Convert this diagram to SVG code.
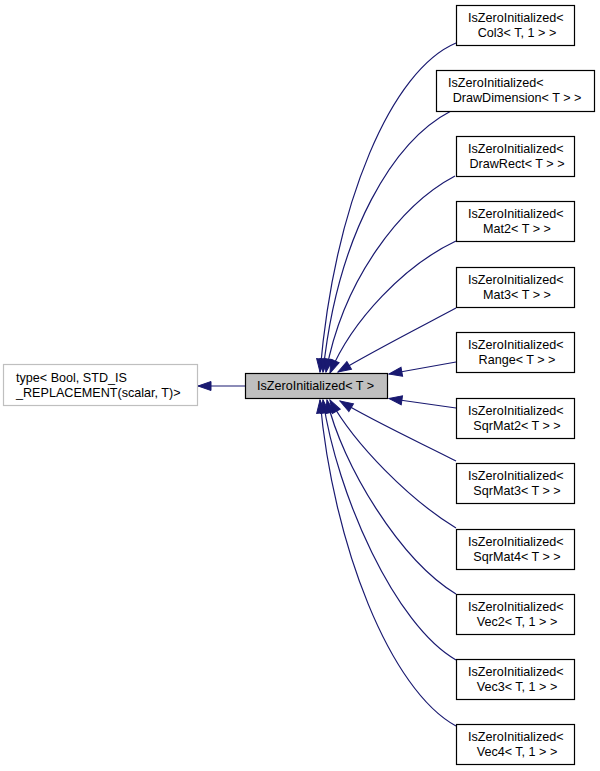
<svg xmlns="http://www.w3.org/2000/svg" width="600" height="771" viewBox="0 0 600 771">
<style>
.bg{fill:#ffffff}
.node rect{fill:#ffffff;stroke:#000000;stroke-width:1.2}
.node text{font-family:"Liberation Sans",Arial,sans-serif;font-size:12.6px;fill:#000000}
.l2{text-anchor:middle}
#n0 rect{fill:#bfbfbf}
#nbase rect{stroke:#bfbfbf}
.edges path{fill:none;stroke:#191970;stroke-width:1.2}
</style>
<defs>
<marker id="ah" markerUnits="userSpaceOnUse" markerWidth="14" markerHeight="10" refX="13" refY="4.5" orient="auto" overflow="visible">
<path d="M0,0 L13,4.5 L0,9 z" fill="#191970" stroke="#191970" stroke-width="1"/>
</marker>
</defs>
<rect class="bg" x="0" y="0" width="600" height="771"/>
<g class="edges">
<path marker-end="url(#ah)" d="M245,386 L198,386"/>
<path marker-end="url(#ah)" d="M456,43 C392,70 335,200 320,372"/>
<path marker-end="url(#ah)" d="M451,111 C395,140 338,230 323,372"/>
<path marker-end="url(#ah)" d="M455,176 C400,205 343,280 326,372"/>
<path marker-end="url(#ah)" d="M456,241 C405,265 352,320 330,373"/>
<path marker-end="url(#ah)" d="M456,308 C430,322 375,350 338,372"/>
<path marker-end="url(#ah)" d="M456,362 L389,374"/>
<path marker-end="url(#ah)" d="M456,408 L389,398.5"/>
<path marker-end="url(#ah)" d="M456,461 C425,445 375,422 340,401"/>
<path marker-end="url(#ah)" d="M456,528 C410,500 355,445 330,400"/>
<path marker-end="url(#ah)" d="M456,594 C400,560 342,465 327,400"/>
<path marker-end="url(#ah)" d="M456,660 C395,625 337,495 323,400"/>
<path marker-end="url(#ah)" d="M456,726 C390,690 333,545 320,400"/>
</g>
<g id="nbase" class="node"><rect x="3.5" y="364.5" width="194" height="41"/><text x="16" y="382">type&lt; Bool, STD_IS</text><text x="16" y="397">_REPLACEMENT(scalar, T)&gt;</text></g>
<g id="n0" class="node"><rect x="245.5" y="373.5" width="142" height="25"/><text x="257" y="389.5">IsZeroInitialized&lt; T &gt;</text></g>
<g id="n1" class="node"><rect x="456.5" y="5.5" width="118" height="40"/><text x="468" y="22">IsZeroInitialized&lt;</text><text class="l2" x="517" y="37">Col3&lt; T, 1 &gt; &gt;</text></g>
<g id="n2" class="node"><rect x="436.5" y="70.5" width="158" height="41"/><text x="448" y="87">IsZeroInitialized&lt;</text><text class="l2" x="517" y="102">DrawDimension&lt; T &gt; &gt;</text></g>
<g id="n3" class="node"><rect x="456.5" y="136.5" width="118" height="40"/><text x="468" y="153">IsZeroInitialized&lt;</text><text class="l2" x="517" y="168">DrawRect&lt; T &gt; &gt;</text></g>
<g id="n4" class="node"><rect x="456.5" y="201.5" width="118" height="40"/><text x="468" y="218">IsZeroInitialized&lt;</text><text class="l2" x="517" y="233">Mat2&lt; T &gt; &gt;</text></g>
<g id="n5" class="node"><rect x="456.5" y="267.5" width="118" height="40"/><text x="468" y="284">IsZeroInitialized&lt;</text><text class="l2" x="517" y="299">Mat3&lt; T &gt; &gt;</text></g>
<g id="n6" class="node"><rect x="456.5" y="332.5" width="118" height="40"/><text x="468" y="349">IsZeroInitialized&lt;</text><text class="l2" x="517" y="364">Range&lt; T &gt; &gt;</text></g>
<g id="n7" class="node"><rect x="456.5" y="398.5" width="118" height="40"/><text x="468" y="415">IsZeroInitialized&lt;</text><text class="l2" x="517" y="430">SqrMat2&lt; T &gt; &gt;</text></g>
<g id="n8" class="node"><rect x="456.5" y="463.5" width="118" height="40"/><text x="468" y="480">IsZeroInitialized&lt;</text><text class="l2" x="517" y="495">SqrMat3&lt; T &gt; &gt;</text></g>
<g id="n9" class="node"><rect x="456.5" y="529.5" width="118" height="40"/><text x="468" y="546">IsZeroInitialized&lt;</text><text class="l2" x="517" y="561">SqrMat4&lt; T &gt; &gt;</text></g>
<g id="n10" class="node"><rect x="456.5" y="594.5" width="118" height="40"/><text x="468" y="611">IsZeroInitialized&lt;</text><text class="l2" x="517" y="626">Vec2&lt; T, 1 &gt; &gt;</text></g>
<g id="n11" class="node"><rect x="456.5" y="659.5" width="118" height="40"/><text x="468" y="676">IsZeroInitialized&lt;</text><text class="l2" x="517" y="691">Vec3&lt; T, 1 &gt; &gt;</text></g>
<g id="n12" class="node"><rect x="456.5" y="724.5" width="118" height="40"/><text x="468" y="741">IsZeroInitialized&lt;</text><text class="l2" x="517" y="756">Vec4&lt; T, 1 &gt; &gt;</text></g>
</svg>
